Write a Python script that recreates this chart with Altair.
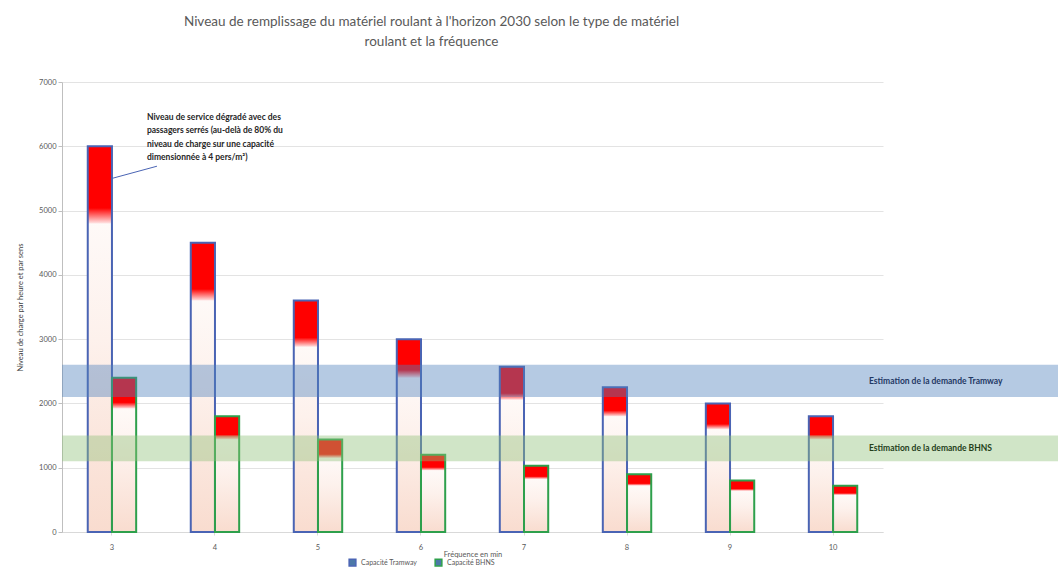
import altair as alt
import pandas as pd

# ---- data ----
frequences = ["3", "4", "5", "6", "7", "8", "9", "10"]
capacite_tramway = [6000, 4500, 3600, 3000, 2570, 2250, 2000, 1800]
capacite_bhns = [2400, 1800, 1440, 1200, 1030, 900, 800, 720]
types = ["Capacité Tramway", "Capacité BHNS"]
seuil_degrade = 0.8

demande_labels = ["Estimation de la demande Tramway", "Estimation de la demande BHNS"]
demande_bas = [2100, 1100]
demande_haut = [2600, 1500]

y_ticks = [0, 1000, 2000, 3000, 4000, 5000, 6000, 7000]

titre = ["Niveau de remplissage du matériel roulant à l'horizon 2030 selon le type de matériel",
         "roulant et la fréquence"]
annotation = ["Niveau de service dégradé avec des",
              "passagers serrés (au-delà de 80% du",
              "niveau de charge sur une capacité",
              "dimensionnée à 4 pers/m²)"]
annot_y = [6520]
fleche_y = [5500, 5690]

FONT = "Lato"
W, H = 821, 450

rows = []
for i, f in enumerate(frequences):
    rows.append(dict(freq=f, type=types[0], cap=capacite_tramway[i]))
    rows.append(dict(freq=f, type=types[1], cap=capacite_bhns[i]))
df = pd.DataFrame(rows)
df["seuil"] = df["cap"] * seuil_degrade

bands = pd.DataFrame({"label": demande_labels, "bas": demande_bas, "haut": demande_haut})
bands["mid"] = (bands["bas"] + bands["haut"]) / 2

xenc = alt.X("freq:N", sort=frequences,
             scale=alt.Scale(paddingInner=0.53, paddingOuter=0.25),
             axis=alt.Axis(title="Fréquence en min", labelAngle=0, labelFontSize=7.5,
                           labelColor="#595959", titleFontSize=7.5, titleColor="#595959",
                           titleFontWeight="normal", labelPadding=8, titlePadding=0,
                           domainColor="#d9d9d9", tickColor="#d9d9d9", tickSize=3,
                           labelFont=FONT, titleFont=FONT))
xoff = alt.XOffset("type:N", sort=types, scale=alt.Scale(paddingInner=0, paddingOuter=0))
yenc = alt.Y("cap:Q", scale=alt.Scale(domain=[0, 7000], nice=False),
             axis=alt.Axis(values=y_ticks, format="d",
                           title="Niveau de charge par heure et par sens",
                           labelFontSize=7.5, labelColor="#595959", titleFontSize=7.5,
                           titleColor="#404040", titleFontWeight="normal", titlePadding=14,
                           gridColor="#e3e3e3", domainColor="#bfbfbf", tickColor="#bfbfbf",
                           tickSize=4, labelFont=FONT, titleFont=FONT))

body_grad = alt.Gradient(gradient="linear", x1=0, x2=0, y1=0, y2=1,
                         stops=[alt.GradientStop(color="#ffffff", offset=0),
                                alt.GradientStop(color="#fdf1ec", offset=0.5),
                                alt.GradientStop(color="#f9dccf", offset=1)])
red_grad = alt.Gradient(gradient="linear", x1=0, x2=0, y1=0, y2=1,
                        stops=[alt.GradientStop(color="#ff0000", offset=0),
                               alt.GradientStop(color="#ff0000", offset=0.8),
                               alt.GradientStop(color="#ffe4e4", offset=1)])

base = alt.Chart(df)
body = base.mark_bar(fill=body_grad).encode(x=xenc, xOffset=xoff, y=yenc)
red = base.mark_bar(fill=red_grad).encode(x=xenc, xOffset=xoff, y="cap:Q", y2="seuil:Q")
outline = base.mark_bar(fillOpacity=0, strokeWidth=2).encode(
    x=xenc, xOffset=xoff, y="cap:Q",
    stroke=alt.Stroke("type:N", sort=types,
                      scale=alt.Scale(domain=types, range=["#4a64b4", "#2ea04c"]),
                      legend=alt.Legend(title=None, orient="none", legendX=286, legendY=476,
                                        direction="horizontal", labelFontSize=7,
                                        labelColor="#595959", labelFont=FONT,
                                        symbolType="square", symbolSize=45,
                                        symbolStrokeWidth=1.5, symbolFillColor="#f3e9e4",
                                        columnPadding=14)))

band_rects = alt.Chart(bands).mark_rect(opacity=0.42).encode(
    x=alt.value(0), x2=alt.value(996),
    y="bas:Q", y2="haut:Q",
    fill=alt.Fill("label:N", scale=alt.Scale(domain=demande_labels,
                                             range=["#4f81bd", "#8fc27a"]), legend=None))
band_text = alt.Chart(bands).mark_text(align="left", baseline="middle", fontSize=8.5,
                                        fontWeight="bold", font=FONT).encode(
    x=alt.value(807), y="mid:Q", text="label:N",
    color=alt.Color("label:N", scale=alt.Scale(domain=demande_labels,
                                               range=["#1f3864", "#243f1a"]), legend=None))

annot_df = pd.DataFrame({"freq": [frequences[0]], "y": annot_y, "txt": [annotation]})
annot = alt.Chart(annot_df).mark_text(align="left", baseline="top", dx=35, fontSize=8.5,
                                      fontWeight="bold", lineHeight=13.5, font=FONT,
                                      color="#262626").encode(
    x=alt.X("freq:N", sort=frequences), y="y:Q", text="txt")

arrow_df = pd.DataFrame({"freq": [frequences[0]], "y1": [fleche_y[0]], "y2": [fleche_y[1]]})
arrow = alt.Chart(arrow_df).mark_rule(color="#4a64b4", strokeWidth=1, x2Offset=45).encode(
    x=alt.X("freq:N", sort=frequences), x2="freq:N", y="y1:Q", y2="y2:Q")

chart = alt.layer(body, red, outline, band_rects, band_text, annot, arrow).properties(
    width=W, height=H,
    background="white",
    title=alt.TitleParams(text=titre, fontSize=13.5, color="#595959", font=FONT,
                          fontWeight="normal", anchor="middle", dx=-41, offset=30,
                          lineHeight=20),
    autosize=alt.AutoSizeParams(type="none"),
    padding={"left": 62, "top": 82, "right": 175, "bottom": 40},
).configure_view(stroke=None)

chart.save("out.html", embed_options={"renderer": "svg", "actions": False})
